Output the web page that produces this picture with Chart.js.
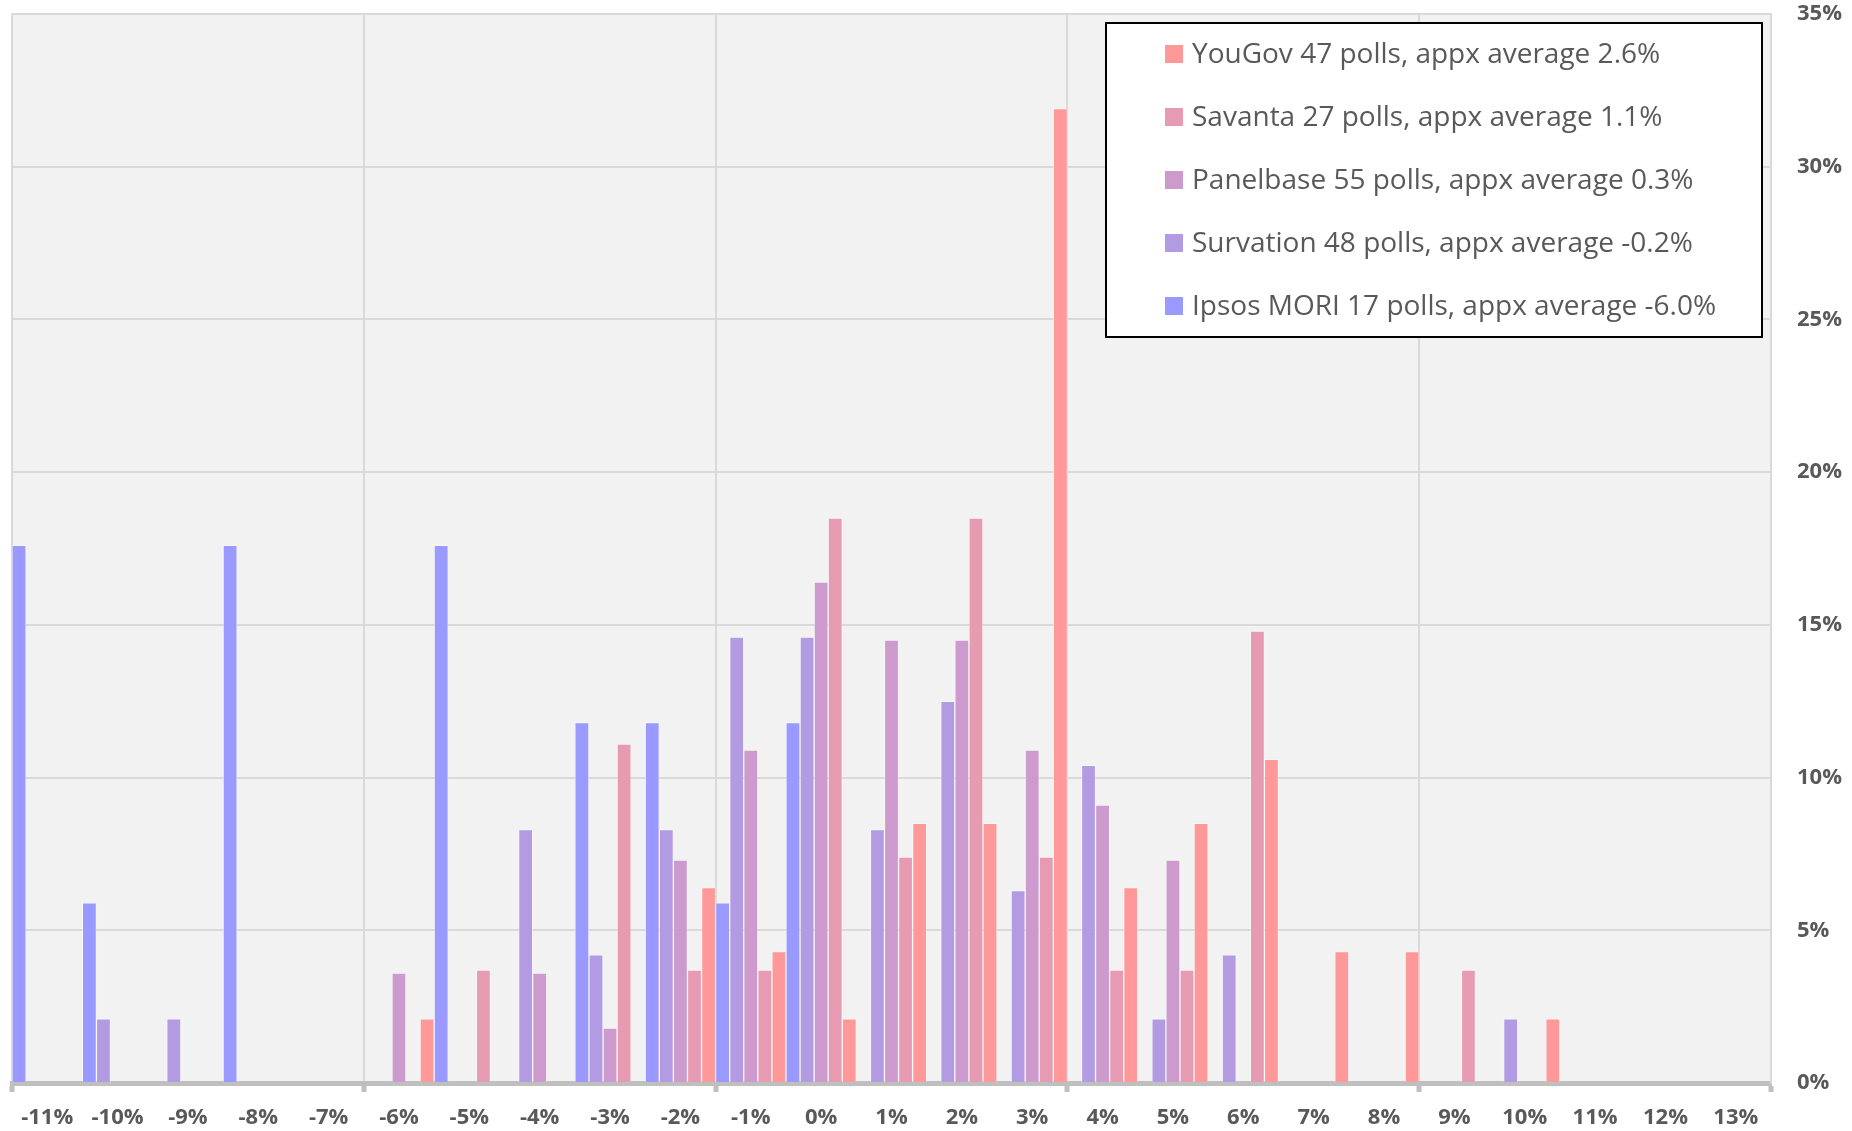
<!DOCTYPE html>
<html>
<head>
<meta charset="utf-8">
<script src="https://cdn.jsdelivr.net/npm/chart.js@4.4.1/dist/chart.umd.min.js"></script>
<style>
  html, body { margin: 0; padding: 0; background: #ffffff; }
  #wrap { width: 1852px; height: 1131px; }
</style>
</head>
<body>
<div id="wrap"><canvas id="c" width="1852" height="1131"></canvas></div>
<script>
// ---- data ----
const categories = ['-11%','-10%','-9%','-8%','-7%','-6%','-5%','-4%','-3%','-2%','-1%','0%','1%','2%','3%','4%','5%','6%','7%','8%','9%','10%','11%','12%','13%'];

const ipsosMori = [17.6,5.9,null,17.6,null,null,17.6,null,11.8,11.8,5.9,11.8,null,null,null,null,null,null,null,null,null,null,null,null,null];
const survation = [null,2.1,2.1,null,null,null,null,8.3,4.2,8.3,14.6,14.6,8.3,12.5,6.3,10.4,2.1,4.2,null,null,null,2.1,null,null,null];
const panelbase = [null,null,null,null,null,3.6,null,3.6,1.8,7.3,10.9,16.4,14.5,14.5,10.9,9.1,7.3,null,null,null,null,null,null,null,null];
const savanta   = [null,null,null,null,null,null,3.7,null,11.1,3.7,3.7,18.5,7.4,18.5,7.4,3.7,3.7,14.8,null,null,3.7,null,null,null,null];
const yougov    = [null,null,null,null,null,2.1,null,null,null,6.4,4.3,2.1,8.5,8.5,31.9,6.4,8.5,10.6,4.3,4.3,null,2.1,null,null,null];

const seriesNames = [
  'Ipsos MORI 17 polls, appx average -6.0%',
  'Survation 48 polls, appx average -0.2%',
  'Panelbase 55 polls, appx average 0.3%',
  'Savanta 27 polls, appx average 1.1%',
  'YouGov 47 polls, appx average 2.6%'
];
const seriesColors = ['#9999ff', '#b39be4', '#cc9acc', '#e69bb3', '#ff9999'];
const seriesValues = [ipsosMori, survation, panelbase, savanta, yougov];

const yMin = 0, yMax = 35, yStep = 5;

// ---- plugins ----
const plotBg = {
  id: 'plotBg',
  beforeDraw(chart) {
    const { ctx, chartArea: a } = chart;
    ctx.save();
    ctx.fillStyle = '#f2f2f2';
    ctx.fillRect(a.left, a.top, a.right - a.left, a.bottom - a.top);
    ctx.restore();
  }
};

const boxLegend = {
  id: 'boxLegend',
  afterDraw(chart) {
    const ctx = chart.ctx;
    const bx = 1106, by = 23, bw = 656, bh = 314;
    ctx.save();
    ctx.fillStyle = '#ffffff';
    ctx.fillRect(bx, by, bw, bh);
    ctx.strokeStyle = '#000000';
    ctx.lineWidth = 2;
    ctx.strokeRect(bx, by, bw, bh);
    ctx.font = '28px "Open Sans", sans-serif';
    ctx.textBaseline = 'middle';
    ctx.textAlign = 'left';
    const ds = chart.data.datasets;
    for (let k = 0; k < ds.length; k++) {
      const d = ds[ds.length - 1 - k];
      const cy = 54 + k * 63;
      ctx.fillStyle = d.backgroundColor;
      ctx.fillRect(1165, cy - 9, 18, 18);
      ctx.fillStyle = '#595959';
      ctx.fillText(d.label, 1192, cy + 1);
    }
    ctx.restore();
  }
};

const onFifth = (c) => (c.index === undefined || c.index % 5 === 0);

new Chart(document.getElementById('c'), {
  type: 'bar',
  data: {
    labels: categories,
    datasets: seriesValues.map((vals, i) => ({
      label: seriesNames[i],
      data: vals,
      backgroundColor: seriesColors[i],
      borderColor: 'rgba(255,255,255,0.35)',
      borderWidth: 1,
      borderSkipped: 'start',
      barPercentage: 1,
      categoryPercentage: 1
    }))
  },
  options: {
    responsive: false,
    animation: false,
    devicePixelRatio: 1,
    layout: { padding: { left: 12, top: 14, right: 0, bottom: 0 } },
    plugins: {
      legend: { display: false },
      tooltip: { enabled: false }
    },
    scales: {
      x: {
        offset: true,
        grid: {
          offset: true,
          color: (c) => onFifth(c) ? '#d9d9d9' : 'rgba(0,0,0,0)',
          lineWidth: 2,
          drawTicks: true,
          tickLength: 9,
          tickWidth: 5,
          tickColor: (c) => onFifth(c) ? '#bfbfbf' : 'rgba(0,0,0,0)'
        },
        border: { display: true, color: '#bfbfbf', width: 5 },
        ticks: {
          color: '#595959',
          font: { family: '"Open Sans", sans-serif', size: 22, weight: 'bold' },
          padding: 13,
          maxRotation: 0,
          autoSkip: false
        },
        afterFit(scale) { scale.height = 48; }
      },
      y: {
        position: 'right',
        min: yMin,
        max: yMax,
        grid: { color: '#d9d9d9', lineWidth: 2, drawTicks: true, tickLength: 26, tickColor: 'rgba(0,0,0,0)' },
        border: { display: true, color: '#d9d9d9', width: 2 },
        ticks: {
          stepSize: yStep,
          color: '#595959',
          padding: 0,
          font: { family: '"Open Sans", sans-serif', size: 22, weight: 'bold' },
          callback: (v) => v + '%'
        },
        afterFit(scale) { scale.width = 81; }
      }
    }
  },
  plugins: [plotBg, boxLegend]
});
</script>
</body>
</html>
